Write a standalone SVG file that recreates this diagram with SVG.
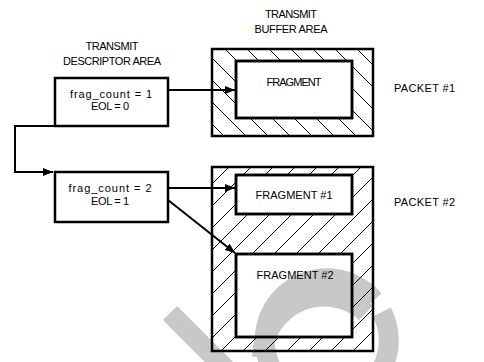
<svg xmlns="http://www.w3.org/2000/svg" width="484" height="362" viewBox="0 0 484 362">
<style>
  text { font-family: "Liberation Sans", Arial, sans-serif; font-size: 11px; fill: #000; }
  .c { text-anchor: middle; }
  .box { fill: #fff; stroke: #000; stroke-width: 2.5; }
  .frag { fill: none; stroke: #000; stroke-width: 2.5; }
  .outer { stroke: #000; stroke-width: 2.5; fill-rule: evenodd; }
  .conn { fill: none; stroke: #000; stroke-width: 2; marker-end: url(#arr); }
  .wm { fill: none; stroke: #c8c8c8; stroke-width: 20; }
</style>
<defs>
  <marker id="arr" markerUnits="userSpaceOnUse" markerWidth="11" markerHeight="9" refX="10" refY="4" orient="auto">
    <path d="M0,0 L10,4 L0,8 z" fill="#000"/>
  </marker>
  <pattern id="hatchBack" width="22" height="22" patternUnits="userSpaceOnUse">
    <path d="M0,0 L22,22 M-6,16 L6,28 M16,-6 L28,6" stroke="#000" stroke-width="1"/>
  </pattern>
  <pattern id="hatchFwd" width="22" height="22" patternUnits="userSpaceOnUse">
    <path d="M0,22 L22,0 M-6,6 L6,-6 M16,28 L28,16" stroke="#000" stroke-width="1"/>
  </pattern>
</defs>
<rect width="484" height="362" fill="#fff"/>

<g id="watermark">
  <path class="wm" d="M374,300 A62,62 0 1,0 382,312"/>
  <path class="wm" d="M262,357 A62,62 0 0,1 366,313"/>
  <line class="wm" x1="170" y1="313" x2="232" y2="375"/>
</g>

<g id="labels">
  <text class="c" x="112" y="50" textLength="53">TRANSMIT</text>
  <text class="c" x="112" y="65" textLength="98">DESCRIPTOR AREA</text>
  <text class="c" x="291" y="18" textLength="52">TRANSMIT</text>
  <text class="c" x="291" y="33" textLength="73">BUFFER AREA</text>
  <text x="394" y="92" textLength="61">PACKET #1</text>
  <text x="394" y="206" textLength="61">PACKET #2</text>
</g>

<g id="packet1">
  <path class="outer" fill="url(#hatchBack)" d="M212,49 H373 V136 H212 Z M236,61 H352 V118 H236 Z"/>
  <rect class="frag" x="236" y="61" width="116" height="57"/>
  <text class="c" x="294" y="86" textLength="55">FRAGMENT</text>
</g>

<g id="packet2">
  <path class="outer" fill="url(#hatchFwd)" d="M212,167 H373 V351 H212 Z M236,175 H352 V214 H236 Z M236,254 H352 V337 H236 Z"/>
  <rect class="frag" x="236" y="175" width="116" height="39"/>
  <rect class="frag" x="236" y="254" width="116" height="83"/>
  <text class="c" x="294" y="199" textLength="77">FRAGMENT #1</text>
  <text class="c" x="295" y="279" textLength="77">FRAGMENT #2</text>
</g>

<g id="desc1">
  <rect class="box" x="55" y="78" width="113" height="48"/>
  <text class="c" x="111" y="98" textLength="82">frag_count = 1</text>
  <text class="c" x="110" y="110" textLength="38">EOL = 0</text>
</g>

<g id="desc2">
  <rect class="box" x="55" y="172" width="113" height="50"/>
  <text class="c" x="110" y="192" textLength="83">frag_count = 2</text>
  <text class="c" x="110" y="205" textLength="38">EOL = 1</text>
</g>

<g id="connectors">
  <line class="conn" x1="168" y1="90" x2="235" y2="90"/>
  <path class="conn" d="M55,126 H15 V172 H53"/>
  <line class="conn" x1="168" y1="188" x2="235" y2="188"/>
  <line class="conn" x1="168" y1="200" x2="235" y2="253"/>
</g>
</svg>
